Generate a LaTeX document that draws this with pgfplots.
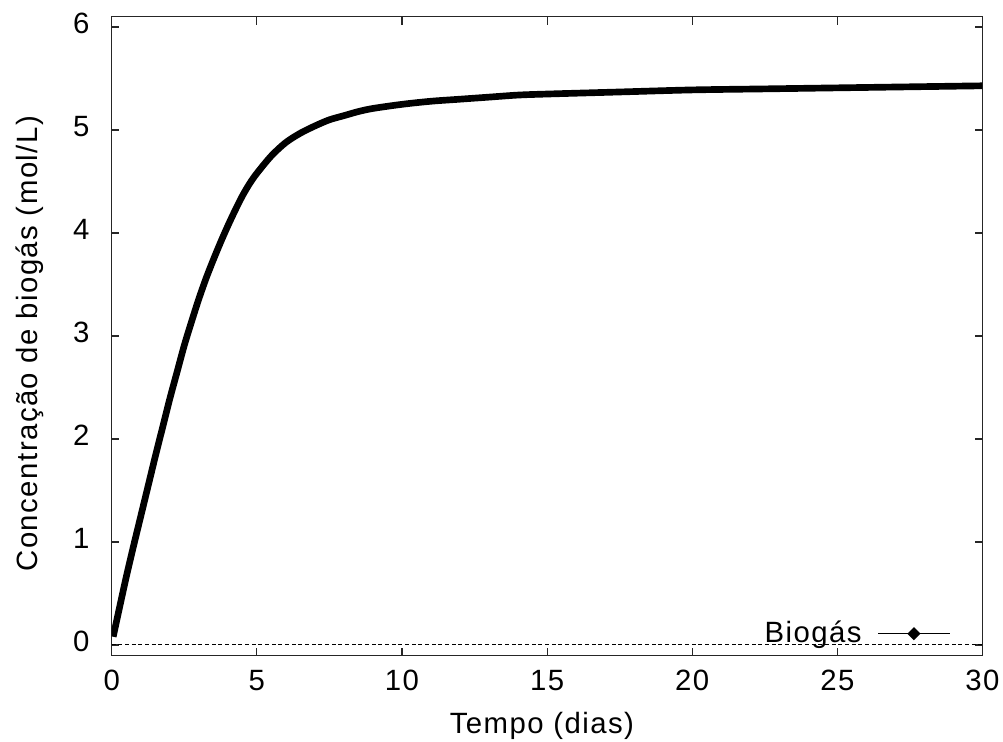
\documentclass[border=0pt]{standalone}
\usepackage{fontspec}
\setmainfont{Liberation Sans}[LetterSpace=5]
\usepackage{pgfplots}
\pgfplotsset{compat=1.18}
\begin{document}
\fontsize{11}{13.2}\selectfont
\begin{tikzpicture}
\begin{axis}[
  scale only axis, width=326.5pt, height=239.4pt,
  xmin=0, xmax=30, ymin=-0.1, ymax=6.1,
  xtick={0,5,...,30}, ytick={0,1,...,6},
  tick align=inside, major tick length=2.9pt,
  axis line style={line width=0.45pt, black!85},
  every tick/.style={line width=0.45pt, black!85},
  /pgf/number format/assume math mode=true,
  xticklabel style={yshift=-1.8pt},
  yticklabel style={xshift=-4.5pt, yshift=1.5pt},
  xlabel={Tempo (dias)}, ylabel={Concentração de biogás (mol/L)},
  xlabel style={at={(axis description cs:0.494,-0.1107)}, anchor=center},
  ylabel style={at={(axis description cs:-0.0942,0.488)}, anchor=center},
  legend plot pos=right,
  legend style={draw=none, fill=none, at={(axis description cs:0.9637,0.0338)}, anchor=east, inner sep=0pt,
    /tikz/every odd column/.append style={column sep=4pt}},
  legend image code/.code={\draw[line width=0.5pt,black] (0pt,0pt) -- (26.8pt,0pt); \fill[black] (13.4pt,0pt) circle (0.7pt);},
]
\addplot[black, dash pattern=on 1.5pt off 1pt, line width=0.4pt, forget plot] coordinates {(0,0) (30,0)};
\addplot[black, line width=2.5pt, smooth, tension=0.5] coordinates {
(0.05,0.08) (0.25,0.34) (0.5,0.66) (0.75,0.96) (1.0,1.25) (1.25,1.54) (1.5,1.83) (1.75,2.11)
(2.0,2.39) (2.25,2.65) (2.5,2.91) (2.75,3.14) (3.0,3.36) (3.25,3.56) (3.5,3.74) (3.75,3.91)
(4.0,4.07) (4.25,4.22) (4.5,4.36) (4.75,4.48) (5.0,4.58) (5.5,4.75) (6.0,4.88) (6.5,4.97)
(7.0,5.04) (7.5,5.10) (8.0,5.14) (8.5,5.18) (9.0,5.21) (10.0,5.25) (11.0,5.28) (12.0,5.30)
(13.0,5.32) (14.0,5.34) (15.0,5.35) (17.5,5.37) (20,5.39) (22.5,5.40) (25,5.41) (27.5,5.42) (30,5.43)
};
\addlegendentry{Biogás}
\end{axis}
\pgfresetboundingbox
\path[use as bounding box] ([shift={(-41.9pt,-32.5pt)}]current axis.south west) rectangle ([shift={(7.7pt,6.3pt)}]current axis.north east);
\end{tikzpicture}
\end{document}
